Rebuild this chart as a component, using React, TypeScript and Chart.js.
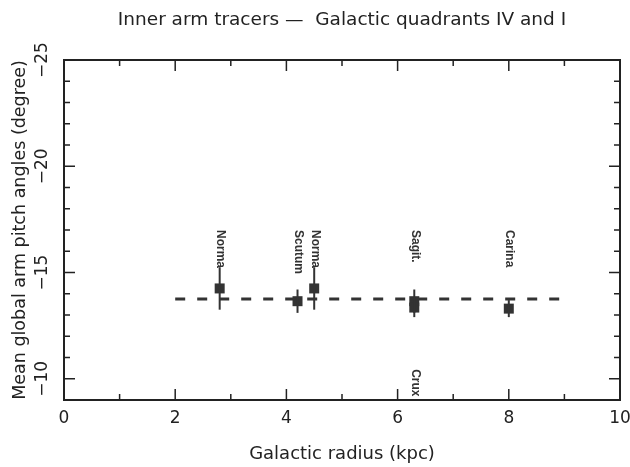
import React, { useEffect, useRef } from "react";
import { Chart, registerables } from "chart.js";

Chart.register(...registerables);

// ---- data ----
const tracers = ["Norma", "Scutum", "Norma", "Sagit.", "Crux", "Carina"];
const radius = [2.8, 4.2, 4.5, 6.3, 6.3, 8.0];
const pitch = [-14.25, -13.65, -14.25, -13.65, -13.35, -13.3];
const pitchErr = [1.0, 0.55, 1.0, 0.55, 0.45, 0.4];
const labelPitch = [-17, -17, -17, -17, -10.45, -17];
const meanRadius = [2, 9];
const meanPitch = -13.75;
const xTicks = [0, 2, 4, 6, 8, 10];
const yTicks = [-25, -20, -15, -10];

const INK = "#222";
const MARK = "#333";
const FAMILY = "'DejaVu Sans'";

const framePlugin = {
  id: "frameTicks",
  afterDatasetsDraw(chart: any) {
    const { ctx, chartArea: a, scales } = chart;
    const xs = scales.x;
    const ys = scales.y;
    ctx.save();
    // error bars
    ctx.strokeStyle = MARK;
    ctx.lineWidth = 2;
    radius.forEach((r, i) => {
      const px = xs.getPixelForValue(r);
      const y1 = ys.getPixelForValue(pitch[i] - pitchErr[i]);
      const y2 = ys.getPixelForValue(pitch[i] + pitchErr[i]);
      ctx.beginPath();
      ctx.moveTo(px, y1);
      ctx.lineTo(px, y2);
      ctx.stroke();
    });
    // frame
    ctx.strokeStyle = INK;
    ctx.lineWidth = 2;
    ctx.strokeRect(a.left, a.top, a.right - a.left, a.bottom - a.top);
    ctx.lineWidth = 1.5;
    ctx.beginPath();
    for (let v = 0; v <= 10; v += 1) {
      const px = xs.getPixelForValue(v);
      const len = v % 2 === 0 ? 11 : 6;
      ctx.moveTo(px, a.bottom);
      ctx.lineTo(px, a.bottom - len);
      ctx.moveTo(px, a.top);
      ctx.lineTo(px, a.top + len);
    }
    for (let v = -25; v <= -9; v += 1) {
      const py = ys.getPixelForValue(v);
      const len = v % 5 === 0 ? 11 : 6;
      ctx.moveTo(a.left, py);
      ctx.lineTo(a.left + len, py);
      ctx.moveTo(a.right, py);
      ctx.lineTo(a.right - len, py);
    }
    ctx.stroke();
    // y tick labels (parallel to axis)
    ctx.fillStyle = INK;
    ctx.font = "17px " + FAMILY;
    ctx.textAlign = "center";
    ctx.textBaseline = "middle";
    yTicks.forEach((v) => {
      const py = ys.getPixelForValue(v);
      ctx.save();
      ctx.translate(43, py);
      ctx.rotate(-Math.PI / 2);
      ctx.fillText("\u2212" + Math.abs(v), 0, 0);
      ctx.restore();
    });
    // tracer labels
    ctx.fillStyle = MARK;
    ctx.font = "bold 12px 'Liberation Sans'";
    ctx.textAlign = "left";
    ctx.textBaseline = "middle";
    tracers.forEach((t, i) => {
      const px = xs.getPixelForValue(radius[i]);
      const py = ys.getPixelForValue(labelPitch[i]);
      ctx.save();
      ctx.translate(px + 1, py);
      ctx.rotate(Math.PI / 2);
      ctx.fillText(t, 0, 0);
      ctx.restore();
    });
    ctx.restore();
  },
};

export default function App() {
  const ref = useRef<HTMLCanvasElement>(null);
  useEffect(() => {
    document.body.style.margin = "0";
    const chart = new Chart(ref.current as HTMLCanvasElement, {
      type: "scatter",
      data: {
        datasets: [
          {
            type: "line",
            data: meanRadius.map((r) => ({ x: r, y: meanPitch })),
            borderColor: MARK,
            borderWidth: 3,
            borderDash: [10, 12],
            pointRadius: 0,
            fill: false,
          } as any,
          {
            data: radius.map((r, i) => ({ x: r, y: pitch[i] })),
            pointStyle: "rect",
            pointRadius: 7.07,
            backgroundColor: MARK,
            borderWidth: 0,
          },
        ],
      },
      options: {
        animation: false,
        responsive: false,
        events: [],
        layout: { padding: { left: 0, right: 10, top: 0, bottom: 0 } },
        plugins: {
          legend: { display: false },
          tooltip: { enabled: false },
          title: {
            display: true,
            fullSize: false,
            text: "Inner arm tracers \u2014  Galactic quadrants IV and I",
            color: INK,
            font: { family: FAMILY, size: 18.5, weight: "normal", lineHeight: 1.2 },
            padding: { top: 9, bottom: 28.8 },
          },
        },
        scales: {
          x: {
            type: "linear",
            min: 0,
            max: 10,
            afterBuildTicks: (s: any) => {
              s.ticks = xTicks.map((v) => ({ value: v }));
            },
            afterFit: (s: any) => {
              s.height = 67;
              s.paddingLeft = 0;
              s.paddingRight = 0;
            },
            grid: { display: false, drawTicks: false },
            border: { display: false },
            ticks: {
              color: INK,
              padding: 8,
              maxRotation: 0,
              font: { family: FAMILY, size: 17 },
            },
            title: {
              display: true,
              text: "Galactic radius (kpc)",
              color: INK,
              font: { family: FAMILY, size: 18, lineHeight: 1.2 },
              padding: { top: 0, bottom: 1.5 },
            },
          },
          y: {
            type: "linear",
            min: -25,
            max: -9,
            reverse: true,
            afterFit: (s: any) => {
              s.width = 64;
              s.paddingTop = 0;
              s.paddingBottom = 0;
            },
            grid: { display: false, drawTicks: false },
            border: { display: false },
            ticks: { display: false },
            title: {
              display: true,
              text: "Mean global arm pitch angles (degree)",
              color: INK,
              font: { family: FAMILY, size: 17.5, lineHeight: 1.2 },
              padding: { top: 9.5, bottom: 0 },
            },
          },
        },
      },
      plugins: [framePlugin],
    });
    return () => chart.destroy();
  }, []);
  return (
    <div style={{ width: 630, height: 467 }}>
      <canvas ref={ref} width={630} height={467} />
    </div>
  );
}
